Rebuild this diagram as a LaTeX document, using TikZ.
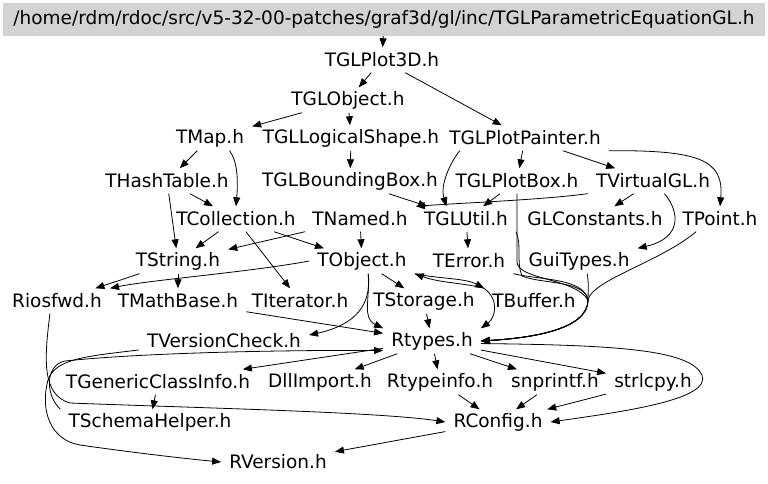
\documentclass[tikz,border=0pt]{standalone}
\usepackage{fontspec}
\setmainfont{DejaVu Sans}
\usetikzlibrary{arrows.meta}
\definecolor{rootgray}{HTML}{D3D3D3}

\begin{document}
\begin{tikzpicture}[x=1pt, y=-1pt,
    hdr/.style={fill=rootgray, font=\fontsize{18.5}{22}\selectfont, inner sep=0pt,
                minimum width=762pt, minimum height=33pt},
    file/.style={font=\fontsize{18.5}{22}\selectfont, inner xsep=8pt, inner ysep=2pt,
                 minimum height=25pt},
    dep/.style={-{Triangle[length=9pt, width=7pt]}, line width=0.8pt}]
  \useasboundingbox (0,0) rectangle (768,483);

  % Root header
  \node[hdr] (main) at (384,19.5) {/home/rdm/rdoc/src/v5-32-00-patches/graf3d/gl/inc/TGLParametricEquationGL.h};

  % Included headers, one row per rank
  \foreach \nm/\x/\y/\lbl in {plot3d/382/60/TGLPlot3D.h, globj/348/100/TGLObject.h,
    tmap/210/138/TMap.h, glshape/351/138/TGLLogicalShape.h, painter/525/138/TGLPlotPainter.h,
    thash/167/181/THashTable.h, glbbox/350/181/TGLBoundingBox.h, plotbox/517/181/TGLPlotBox.h,
    tvgl/653/181/TVirtualGL.h,
    tcoll/236/219/TCollection.h, tnamed/360/219/TNamed.h, glutil/466/219/TGLUtil.h,
    glconst/595/219/GLConstants.h, tpoint/720/219/TPoint.h,
    tstring/178/261/TString.h, tobj/362/261/TObject.h, terror/469/261/TError.h,
    guitypes/579/261/GuiTypes.h,
    riosfwd/57/301/Riosfwd.h, tmath/178/301/TMathBase.h, titer/300/301/TIterator.h,
    tstorage/424/301/TStorage.h, tbuffer/534/301/TBuffer.h,
    tvcheck/224/341/TVersionCheck.h, rtypes/432/341/Rtypes.h,
    tgci/158/382/TGenericClassInfo.h, dllimp/320/382/DllImport.h, rtinfo/440/382/Rtypeinfo.h,
    snpr/555/382/snprintf.h, strl/653/382/strlcpy.h,
    tschema/150/422/TSchemaHelper.h, rconfig/498/422/RConfig.h,
    rversion/278/462/RVersion.h} {
    \node[file] (\nm) at (\x,\y) {\lbl};
  }

  % Straight includes
  \foreach \a/\b in {main/plot3d, plot3d/globj, plot3d/painter, globj/tmap, globj/glshape,
    tmap/thash, glshape/glbbox, painter/plotbox, painter/tvgl, glbbox/glutil, plotbox/glutil,
    tvgl/glconst, thash/tstring, thash/tcoll, tcoll/tstring, tcoll/tobj, tcoll/titer,
    tnamed/tstring, tnamed/tobj, glutil/terror, tstring/tmath, tstring/riosfwd,
    tobj/tstorage, tstorage/rtypes, tmath/rtypes, rtypes/tgci, tgci/tschema, rtypes/dllimp,
    rtypes/rtinfo, rtypes/snpr, rtypes/strl, rtinfo/rconfig, snpr/rconfig, strl/rconfig,
    rconfig/rversion} {
    \draw[dep] (\a) -- (\b);
  }

  % Curved includes
  \draw[dep] (tmap.327) .. controls (238,162) and (238,182) .. (tcoll.north);
  \draw[dep] (painter.south east) .. controls (700,150) and (724,160) .. (tpoint.north);
  \draw[dep] (painter.191) .. controls (450,163) and (440,185) .. (glutil.147);
  \draw[dep] (tvgl.south west) .. controls (540,200) and (460,203) .. (tnamed.north east);
  \draw[dep] (tvgl.312) .. controls (680,212) and (682,238) .. (guitypes.north east);
  \draw[dep] (tobj.west) .. controls (250,272) and (150,280) .. (riosfwd.north east);
  \draw[dep] (tobj.south east) .. controls (440,279) and (465,278) .. (tbuffer.north west);
  \draw[dep] (tbuffer.north west) .. controls (465,283) and (440,283) .. (tobj.south east);
  \draw[dep] (tbuffer.north west) .. controls (500,300) and (495,318) .. (rtypes.north east);
  \draw[dep] (tobj.296) .. controls (372,305) and (355,325) .. (tvcheck.4);
  \draw[dep] (tobj.296) .. controls (370,300) and (362,318) .. (rtypes.north west);

  % Bundle into Rtypes.h from the right
  \coordinate (bend) at (588,300);
  \draw[dep] (glutil.south east) .. controls (522,245) and (516,262) .. (522,276)
    .. controls (540,284) and (585,280) .. (bend) .. controls (588,330) and (530,338) .. (rtypes.east);
  \draw[dep] (plotbox.south) -- (517,262) .. controls (518,280) and (575,278) .. (bend)
    .. controls (588,330) and (530,338) .. (rtypes.east);
  \draw[dep] (terror.south east) .. controls (540,280) and (584,278) .. (bend)
    .. controls (588,330) and (530,338) .. (rtypes.east);
  \draw[dep] (guitypes.303) .. controls (589,285) and (588,292) .. (bend)
    .. controls (588,330) and (530,338) .. (rtypes.east);
  \draw[dep] (tpoint.208) .. controls (660,262) and (592,280) .. (bend)
    .. controls (588,330) and (530,338) .. (rtypes.east);

  % Long detours round the left and right
  \draw[dep] (riosfwd.241) .. controls (44,360) and (42,395) .. (70,403)
    .. controls (200,408) and (380,412) .. (rconfig.west);
  \draw[dep] (tvcheck.186) .. controls (90,356) and (55,358) .. (48,380)
    .. controls (40,410) and (50,440) .. (80,445) .. controls (150,455) and (200,460) .. (rversion.west);
  \draw[dep] (tschema.north west) .. controls (45,395) and (45,365) .. (65,361)
    .. controls (150,352) and (300,350) .. (rtypes.191);
  \draw[dep] (rtypes.357) .. controls (620,345) and (690,350) .. (702,375)
    .. controls (712,400) and (620,412) .. (rconfig.east);
\end{tikzpicture}
\end{document}
